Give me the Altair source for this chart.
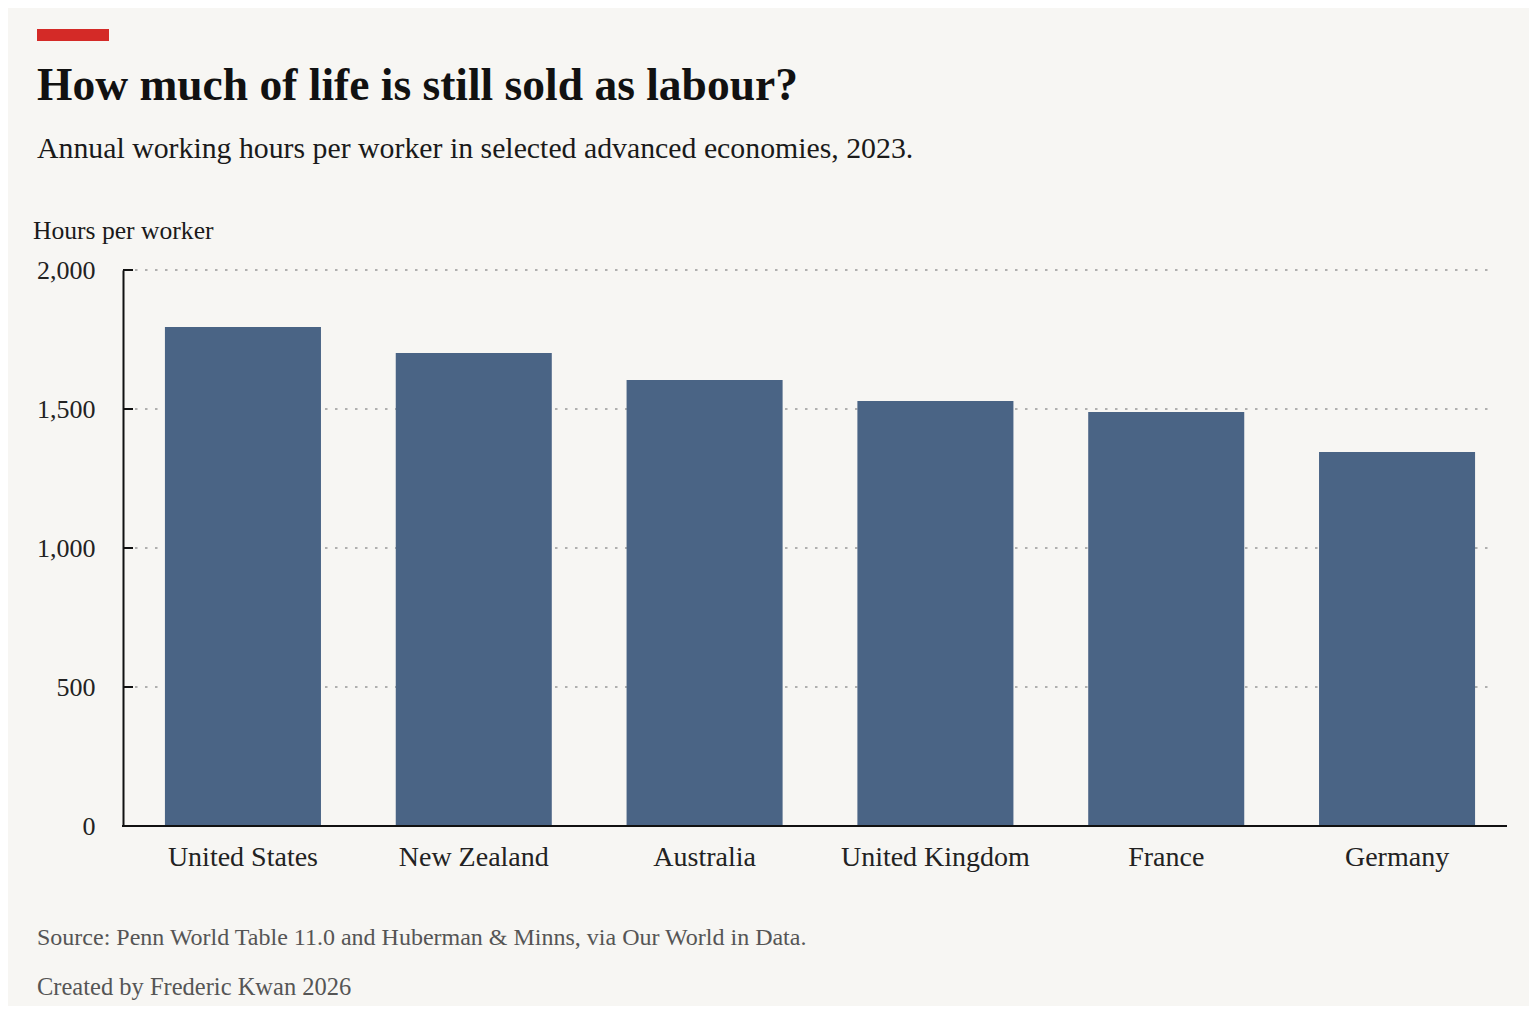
import altair as alt
import pandas as pd

countries = ["United States", "New Zealand", "Australia", "United Kingdom", "France", "Germany"]
hours = [1795, 1701, 1604, 1529, 1489, 1345]
grid_values = [500, 1000, 1500, 2000]
tick_values = [0, 500, 1000, 1500, 2000]

title = "How much of life is still sold as labour?"
subtitle = "Annual working hours per worker in selected advanced economies, 2023."
axis_title = "Hours per worker"
source = "Source: Penn World Table 11.0 and Huberman & Minns, via Our World in Data."
credit = "Created by Frederic Kwan 2026"

FONT = "Liberation Serif"
W, H = 1384, 556

df = pd.DataFrame({"country": countries, "hours": hours})
grid_df = pd.DataFrame({"v": grid_values})
tick_df = pd.DataFrame({"v": tick_values})
one = pd.DataFrame({"a": [0]})

yscale = alt.Scale(domain=[0, 2000], nice=False)

bars = alt.Chart(df).mark_bar(color="#4a6485").encode(
    x=alt.X("country:N", sort=countries,
            scale=alt.Scale(paddingInner=0.324, paddingOuter=0.16, range=[5, W + 5]),
            axis=alt.Axis(title=None, labelAngle=0, ticks=False, domain=False,
                          labelFont=FONT, labelLimit=0,
                          labelFontSize=28, labelColor="#222", labelPadding=17)),
    y=alt.Y("hours:Q", scale=yscale,
            axis=alt.Axis(title=None, values=tick_values, format=",.0f", ticks=False,
                          grid=False, domain=True, domainColor="#111", domainWidth=2,
                          labelFont=FONT, labelFontSize=26, labelColor="#222",
                          labelPadding=28)),
)

grid = alt.Chart(grid_df).mark_rule(color="#999", strokeDash=[2.5, 7.5], strokeWidth=1.5).encode(
    y=alt.Y("v:Q", scale=yscale),
    x=alt.value(12), x2=alt.value(W - 14),
)

ticks = alt.Chart(tick_df).mark_rule(color="#111", strokeWidth=2).encode(
    y=alt.Y("v:Q", scale=yscale),
    x=alt.value(0), x2=alt.value(10),
)

baseline = alt.Chart(one).mark_rule(color="#111", strokeWidth=2).encode(
    y=alt.value(H), x=alt.value(-1), x2=alt.value(W)
)

def txt(s, x, y, size, color="#111", weight="normal"):
    return alt.Chart(one).mark_text(
        text=s, font=FONT, fontSize=size, color=color, fontWeight=weight,
        align="left", baseline="alphabetic"
    ).encode(x=alt.value(x), y=alt.value(y))

red = alt.Chart(one).mark_rect(color="#d42a27").encode(
    x=alt.value(-86), x2=alt.value(-14), y=alt.value(-241), y2=alt.value(-229)
)

chart = alt.layer(
    grid, bars, ticks, baseline, red,
    txt(title, -86, -170, 45.5, "#111", "bold"),
    txt(subtitle, -86, -112, 29.8, "#1a1a1a"),
    txt(axis_title, -90, -31, 25.6, "#1a1a1a"),
    txt(source, -86, 675, 24, "#555"),
    txt(credit, -86, 725, 24.5, "#555"),
).properties(
    width=W, height=H,
    autosize=alt.AutoSizeParams(type="none"),
    padding={"left": 115, "top": 262, "right": 22, "bottom": 180},
    background="#f7f6f3",
).configure_view(stroke=None)

chart.save("out.html", embed_options={"renderer": "svg", "actions": False})
